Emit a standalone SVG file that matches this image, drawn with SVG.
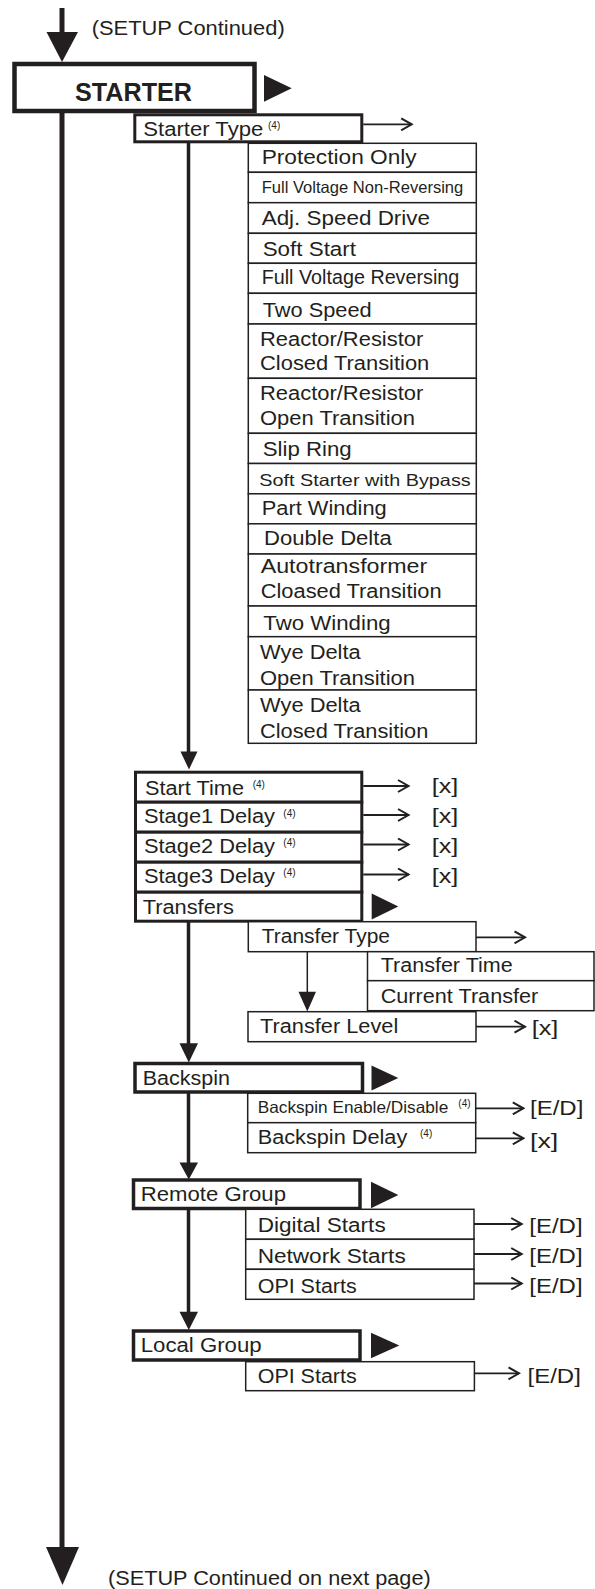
<svg xmlns="http://www.w3.org/2000/svg" width="595" height="1589" viewBox="0 0 595 1589">
<style>
.t{font-family:"Liberation Sans",Arial,Helvetica,sans-serif;font-size:20px;fill:#231f20}
.s{font-size:16.5px}
.b{font-weight:bold;font-size:26px}
.sup{font-size:10px}
.v{font-size:21px}
.hv{fill:#fff;stroke:#231f20;stroke-width:4.5}
.tk{fill:#fff;stroke:#231f20;stroke-width:3}
.tn{fill:#fff;stroke:#231f20;stroke-width:1.5}
.ln{stroke:#231f20;fill:none}
.ah{fill:#231f20}
</style>
<defs>
<marker id="open" markerUnits="userSpaceOnUse" markerWidth="14" markerHeight="14" refX="12" refY="7" orient="auto">
<polyline points="1.5,1 12,7 1.5,13" fill="none" stroke="#231f20" stroke-width="2"/>
</marker>
</defs>
<rect width="595" height="1589" fill="#fff"/>

<g id="connectors">
<line class="ln" x1="62" y1="8" x2="62" y2="40" stroke-width="5"/>
<polygon class="ah" points="46.5,32 78,32 62,62"/>
<line class="ln" x1="62" y1="111" x2="62" y2="1555" stroke-width="5"/>
<polygon class="ah" points="46,1547 79,1547 62.5,1585"/>
<line class="ln" x1="188.5" y1="143" x2="188.5" y2="755" stroke-width="3.5"/>
<polygon class="ah" points="180.5,751.5 197.5,751.5 189,769.5"/>
<line class="ln" x1="188.5" y1="921" x2="188.5" y2="1047" stroke-width="3.5"/>
<polygon class="ah" points="179.5,1043.3 198,1043.3 188.8,1062.5"/>
<line class="ln" x1="188.5" y1="1093" x2="188.5" y2="1166" stroke-width="3.5"/>
<polygon class="ah" points="179.5,1162.5 198,1162.5 188.8,1179.5"/>
<line class="ln" x1="188.5" y1="1209" x2="188.5" y2="1315" stroke-width="3.5"/>
<polygon class="ah" points="179.5,1311.7 198,1311.7 188.8,1330"/>
<line class="ln" x1="307.3" y1="951.7" x2="307.3" y2="995" stroke-width="1.5"/>
<polygon class="ah" points="298.5,991.7 316,991.7 307.3,1011.5"/>
<line class="ln" x1="363.3" y1="124.3" x2="411.7" y2="124.3" stroke-width="1.8" marker-end="url(#open)"/>
<line class="ln" x1="363.3" y1="786" x2="408.5" y2="786" stroke-width="1.8" marker-end="url(#open)"/>
<line class="ln" x1="363.3" y1="815" x2="408.5" y2="815" stroke-width="1.8" marker-end="url(#open)"/>
<line class="ln" x1="363.3" y1="844.5" x2="408.5" y2="844.5" stroke-width="1.8" marker-end="url(#open)"/>
<line class="ln" x1="363.3" y1="874.5" x2="408.5" y2="874.5" stroke-width="1.8" marker-end="url(#open)"/>
<line class="ln" x1="476" y1="937.3" x2="525" y2="937.3" stroke-width="1.8" marker-end="url(#open)"/>
<line class="ln" x1="476" y1="1026.7" x2="525" y2="1026.7" stroke-width="1.8" marker-end="url(#open)"/>
<line class="ln" x1="475.7" y1="1108.3" x2="523.3" y2="1108.3" stroke-width="1.8" marker-end="url(#open)"/>
<line class="ln" x1="475.7" y1="1138.3" x2="523.3" y2="1138.3" stroke-width="1.8" marker-end="url(#open)"/>
<line class="ln" x1="474" y1="1224" x2="521.7" y2="1224" stroke-width="1.8" marker-end="url(#open)"/>
<line class="ln" x1="474" y1="1254" x2="521.7" y2="1254" stroke-width="1.8" marker-end="url(#open)"/>
<line class="ln" x1="474" y1="1283.5" x2="521.7" y2="1283.5" stroke-width="1.8" marker-end="url(#open)"/>
<line class="ln" x1="474.4" y1="1373.3" x2="519" y2="1373.3" stroke-width="1.8" marker-end="url(#open)"/>
</g>

<text class="t" x="91.7" y="35" textLength="193" lengthAdjust="spacingAndGlyphs">(SETUP Continued)</text>
<text class="t" x="108" y="1584.5" textLength="322.7" lengthAdjust="spacingAndGlyphs">(SETUP Continued on next page)</text>

<g id="starter">
<rect class="hv" x="14.5" y="64" width="240" height="47"/>
<text class="t b" x="75" y="101" textLength="117" lengthAdjust="spacingAndGlyphs">STARTER</text>
<polygon class="ah" points="264,75 291.7,88.3 264,101.7"/>
</g>

<g id="starter-type">
<rect class="tk" x="134.8" y="114.8" width="227" height="27"/>
<text class="t" x="143.3" y="136" textLength="120" lengthAdjust="spacingAndGlyphs">Starter Type</text>
<text class="t sup" x="268" y="129">(4)</text>
</g>

<g id="opt-protection-only"><rect class="tn" x="248.3" y="143.3" width="228" height="29"/><text class="t" x="261.7" y="164" textLength="155" lengthAdjust="spacingAndGlyphs">Protection Only</text></g>
<g id="opt-fvnr"><rect class="tn" x="248.3" y="172.3" width="228" height="30.4"/><text class="t s" x="261.7" y="192.7" textLength="201.6" lengthAdjust="spacingAndGlyphs">Full Voltage Non-Reversing</text></g>
<g id="opt-adj-speed"><rect class="tn" x="248.3" y="202.7" width="228" height="30.6"/><text class="t" x="261.7" y="225" textLength="168.3" lengthAdjust="spacingAndGlyphs">Adj. Speed Drive</text></g>
<g id="opt-soft-start"><rect class="tn" x="248.3" y="233.3" width="228" height="30"/><text class="t" x="262.7" y="255.7" textLength="93.3" lengthAdjust="spacingAndGlyphs">Soft Start</text></g>
<g id="opt-fvr"><rect class="tn" x="248.3" y="263.3" width="228" height="30"/><text class="t" x="261.7" y="284.3" textLength="197.6" lengthAdjust="spacingAndGlyphs">Full Voltage Reversing</text></g>
<g id="opt-two-speed"><rect class="tn" x="248.3" y="293.3" width="228" height="30.7"/><text class="t" x="262.7" y="316.7" textLength="109" lengthAdjust="spacingAndGlyphs">Two Speed</text></g>
<g id="opt-rr-closed"><rect class="tn" x="248.3" y="324" width="228" height="54.3"/><text class="t" x="260" y="345.7" textLength="163.3" lengthAdjust="spacingAndGlyphs">Reactor/Resistor</text><text class="t" x="260" y="370" textLength="169.3" lengthAdjust="spacingAndGlyphs">Closed Transition</text></g>
<g id="opt-rr-open"><rect class="tn" x="248.3" y="378.3" width="228" height="55"/><text class="t" x="260" y="400" textLength="163.3" lengthAdjust="spacingAndGlyphs">Reactor/Resistor</text><text class="t" x="260" y="425" textLength="155" lengthAdjust="spacingAndGlyphs">Open Transition</text></g>
<g id="opt-slip-ring"><rect class="tn" x="248.3" y="433.3" width="228" height="30.2"/><text class="t" x="262.7" y="456" textLength="89" lengthAdjust="spacingAndGlyphs">Slip Ring</text></g>
<g id="opt-ss-bypass"><rect class="tn" x="248.3" y="463.5" width="228" height="30.3"/><text class="t s" x="259.3" y="486" textLength="211.4" lengthAdjust="spacingAndGlyphs">Soft Starter with Bypass</text></g>
<g id="opt-part-winding"><rect class="tn" x="248.3" y="493.8" width="228" height="30"/><text class="t" x="261.7" y="515" textLength="125" lengthAdjust="spacingAndGlyphs">Part Winding</text></g>
<g id="opt-double-delta"><rect class="tn" x="248.3" y="523.8" width="228" height="30.2"/><text class="t" x="264" y="545" textLength="127.7" lengthAdjust="spacingAndGlyphs">Double Delta</text></g>
<g id="opt-autotransformer"><rect class="tn" x="248.3" y="554" width="228" height="52"/><text class="t" x="260.7" y="573.3" textLength="166.6" lengthAdjust="spacingAndGlyphs">Autotransformer</text><text class="t" x="260.7" y="598.3" textLength="181" lengthAdjust="spacingAndGlyphs">Cloased Transition</text></g>
<g id="opt-two-winding"><rect class="tn" x="248.3" y="606" width="228" height="30.7"/><text class="t" x="263.3" y="630" textLength="127.4" lengthAdjust="spacingAndGlyphs">Two Winding</text></g>
<g id="opt-wye-open"><rect class="tn" x="248.3" y="636.7" width="228" height="53.3"/><text class="t" x="260" y="659.3" textLength="100.7" lengthAdjust="spacingAndGlyphs">Wye Delta</text><text class="t" x="260" y="685" textLength="155" lengthAdjust="spacingAndGlyphs">Open Transition</text></g>
<g id="opt-wye-closed"><rect class="tn" x="248.3" y="690" width="228" height="53.3"/><text class="t" x="260" y="711.7" textLength="100.7" lengthAdjust="spacingAndGlyphs">Wye Delta</text><text class="t" x="260" y="738.3" textLength="168.3" lengthAdjust="spacingAndGlyphs">Closed Transition</text></g>

<g id="start-time"><rect class="tk" x="135.5" y="772.2" width="226.3" height="30"/><text class="t" x="145" y="795" textLength="99" lengthAdjust="spacingAndGlyphs">Start Time</text><text class="t sup" x="252.7" y="788">(4)</text><text class="t v" x="431.7" y="793.3" textLength="26.5" lengthAdjust="spacingAndGlyphs">[x]</text></g>
<g id="stage1-delay"><rect class="tk" x="135.5" y="802.2" width="226.3" height="30"/><text class="t" x="144" y="823.3" textLength="131" lengthAdjust="spacingAndGlyphs">Stage1 Delay</text><text class="t sup" x="283.3" y="816.5">(4)</text><text class="t v" x="431.7" y="822.7" textLength="26.5" lengthAdjust="spacingAndGlyphs">[x]</text></g>
<g id="stage2-delay"><rect class="tk" x="135.5" y="832.2" width="226.3" height="30"/><text class="t" x="144" y="852.7" textLength="131" lengthAdjust="spacingAndGlyphs">Stage2 Delay</text><text class="t sup" x="283.3" y="846">(4)</text><text class="t v" x="431.7" y="852.5" textLength="26.5" lengthAdjust="spacingAndGlyphs">[x]</text></g>
<g id="stage3-delay"><rect class="tk" x="135.5" y="862.2" width="226.3" height="30"/><text class="t" x="144" y="882.7" textLength="131" lengthAdjust="spacingAndGlyphs">Stage3 Delay</text><text class="t sup" x="283.3" y="876">(4)</text><text class="t v" x="431.7" y="882.5" textLength="26.5" lengthAdjust="spacingAndGlyphs">[x]</text></g>
<g id="transfers"><rect class="tk" x="135.5" y="892.2" width="226.3" height="29"/><text class="t" x="142.7" y="914" textLength="91.3" lengthAdjust="spacingAndGlyphs">Transfers</text><polygon class="ah" points="371.7,893.5 398.3,906.5 371.7,919.5"/></g>

<g id="transfer-type"><rect class="tn" x="248.3" y="921.7" width="227.7" height="30"/><text class="t" x="261.7" y="942.7" textLength="128.3" lengthAdjust="spacingAndGlyphs">Transfer Type</text></g>
<g id="transfer-time"><rect class="tn" x="367.5" y="951.7" width="226.5" height="29"/><text class="t" x="380.7" y="972.3" textLength="132" lengthAdjust="spacingAndGlyphs">Transfer Time</text></g>
<g id="current-transfer"><rect class="tn" x="367.5" y="980.7" width="226.5" height="30"/><text class="t" x="380.7" y="1003.3" textLength="157.6" lengthAdjust="spacingAndGlyphs">Current Transfer</text></g>
<g id="transfer-level"><rect class="tn" x="248" y="1011.7" width="228" height="30"/><text class="t" x="260" y="1032.7" textLength="138.3" lengthAdjust="spacingAndGlyphs">Transfer Level</text><text class="t v" x="531.7" y="1035" textLength="26.6" lengthAdjust="spacingAndGlyphs">[x]</text></g>

<g id="backspin"><rect class="tk" x="135" y="1063.5" width="227.5" height="28.5" style="stroke-width:3.5"/><text class="t" x="142.7" y="1085" textLength="87.3" lengthAdjust="spacingAndGlyphs">Backspin</text><polygon class="ah" points="371.5,1065.5 398.3,1078 371.5,1090.5"/></g>
<g id="backspin-enable"><rect class="tn" x="247.7" y="1093.3" width="228" height="29.4"/><text class="t s" x="257.7" y="1113.3" textLength="190.6" lengthAdjust="spacingAndGlyphs">Backspin Enable/Disable</text><text class="t sup" x="458.3" y="1106.5">(4)</text><text class="t v" x="530" y="1115" textLength="53.3" lengthAdjust="spacingAndGlyphs">[E/D]</text></g>
<g id="backspin-delay"><rect class="tn" x="247.7" y="1122.7" width="228" height="30"/><text class="t" x="257.7" y="1144" textLength="149.6" lengthAdjust="spacingAndGlyphs">Backspin Delay</text><text class="t sup" x="420" y="1137">(4)</text><text class="t v" x="530" y="1148.3" textLength="28.3" lengthAdjust="spacingAndGlyphs">[x]</text></g>

<g id="remote-group"><rect class="tk" x="133.5" y="1180" width="226.5" height="28.5" style="stroke-width:3.5"/><text class="t" x="140.7" y="1200.7" textLength="145.3" lengthAdjust="spacingAndGlyphs">Remote Group</text><polygon class="ah" points="371,1181.7 398.3,1195 371,1208.3"/></g>
<g id="digital-starts"><rect class="tn" x="245.7" y="1209.3" width="228.3" height="30"/><text class="t" x="257.7" y="1231.7" textLength="128" lengthAdjust="spacingAndGlyphs">Digital Starts</text><text class="t v" x="529.3" y="1233.3" textLength="53.3" lengthAdjust="spacingAndGlyphs">[E/D]</text></g>
<g id="network-starts"><rect class="tn" x="245.7" y="1239.3" width="228.3" height="30"/><text class="t" x="257.7" y="1262.7" textLength="148" lengthAdjust="spacingAndGlyphs">Network Starts</text><text class="t v" x="529.3" y="1263.3" textLength="53.3" lengthAdjust="spacingAndGlyphs">[E/D]</text></g>
<g id="remote-opi-starts"><rect class="tn" x="245.7" y="1269.3" width="228.3" height="30"/><text class="t" x="257.7" y="1292.7" textLength="99" lengthAdjust="spacingAndGlyphs">OPI Starts</text><text class="t v" x="529.3" y="1292.5" textLength="53.3" lengthAdjust="spacingAndGlyphs">[E/D]</text></g>

<g id="local-group"><rect class="tk" x="133.5" y="1331" width="226.5" height="29" style="stroke-width:3.5"/><text class="t" x="140.7" y="1351.7" textLength="121" lengthAdjust="spacingAndGlyphs">Local Group</text><polygon class="ah" points="371,1332.7 399.3,1345.5 371,1358.3"/></g>
<g id="local-opi-starts"><rect class="tn" x="245.7" y="1361.7" width="228.7" height="29"/><text class="t" x="257.7" y="1383.3" textLength="99" lengthAdjust="spacingAndGlyphs">OPI Starts</text><text class="t v" x="527.5" y="1382.7" textLength="53.3" lengthAdjust="spacingAndGlyphs">[E/D]</text></g>
</svg>
